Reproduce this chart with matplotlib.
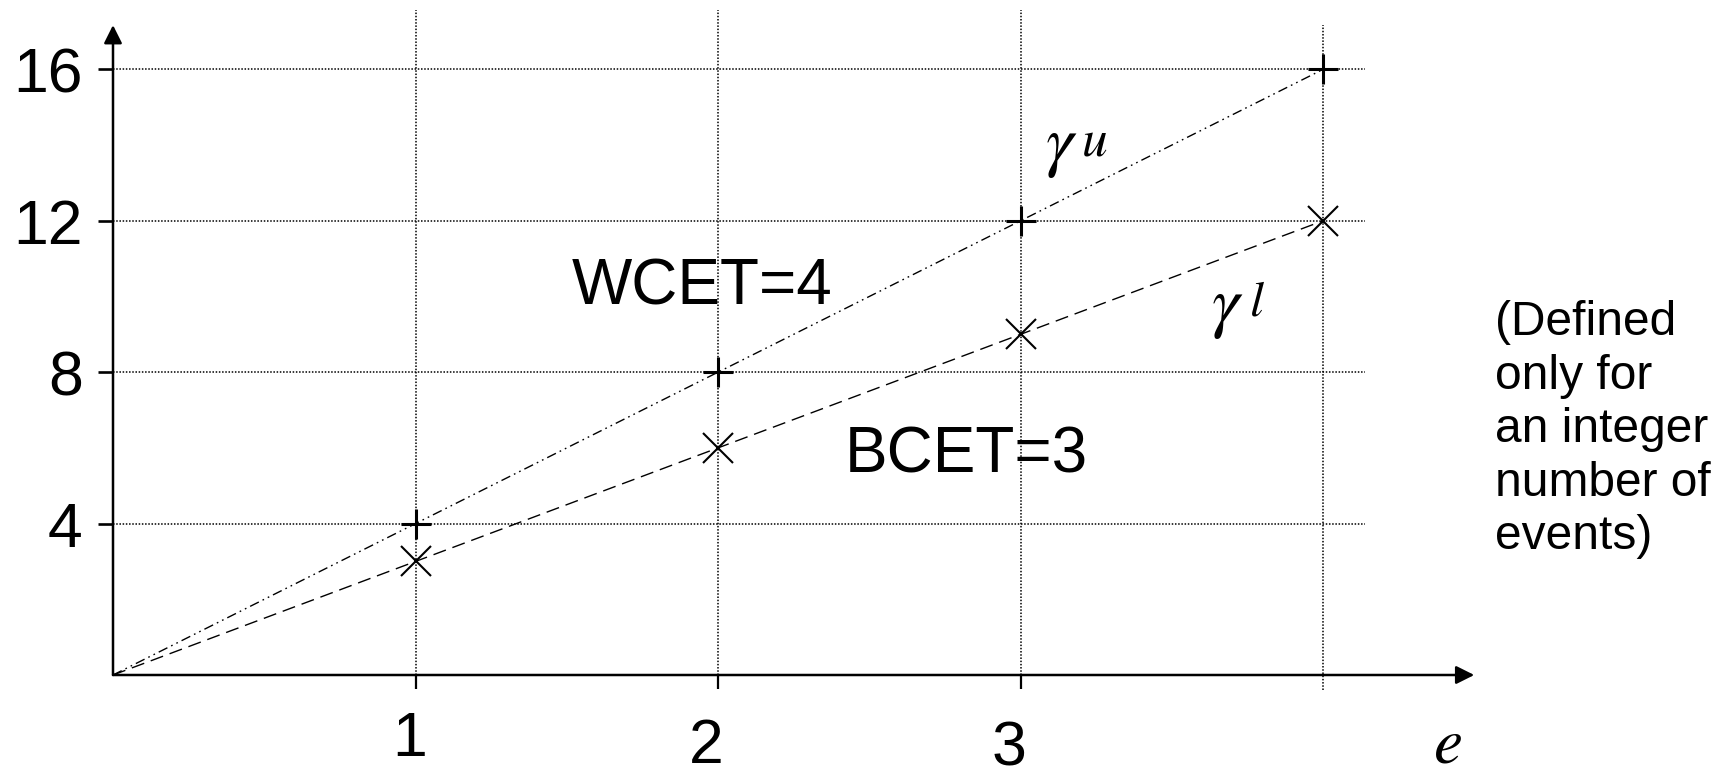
import matplotlib
matplotlib.use("Agg")
import matplotlib.pyplot as plt
from matplotlib.transforms import ScaledTranslation

plt.rcParams["font.family"] = ["Liberation Sans", "DejaVu Sans"]
plt.rcParams["mathtext.fontset"] = "stix"

# Data: execution demand curves for a task with WCET=4 and BCET=3
events = [0, 1, 2, 3, 4]
upper_demand = [0, 4, 8, 12, 16]   # gamma^u, WCET = 4
lower_demand = [0, 3, 6, 9, 12]    # gamma^l, BCET = 3
x_ticks = [1, 2, 3]
x_tick_labels = ["1", "2", "3"]
y_ticks = [4, 8, 12, 16]
y_tick_labels = ["4", "8", "12", "16"]
grid_x = [1, 2, 3, 4]

W, H, DPI = 17.21, 7.82, 100
fig = plt.figure(figsize=(W, H), dpi=DPI)

X_MAX, Y_MAX = 4.5, 17.17
ax = fig.add_axes([113 / 1721, 107 / 782, X_MAX * 302.5 / 1721, Y_MAX * 37.85 / 782])
ax.set_xlim(0, X_MAX)
ax.set_ylim(0, Y_MAX)
ax.patch.set_visible(False)
for s in ax.spines.values():
    s.set_visible(False)

# dotted reference grid
grid_style = dict(colors="black", linewidth=1.1, linestyles=(0, (1, 1.1)), clip_on=False, zorder=1)
ax.vlines(grid_x[:3], 0, 17.56, **grid_style)
ax.vlines(grid_x[3:], -0.4, Y_MAX, **grid_style)
ax.hlines(y_ticks, 0, 4.14, **grid_style)

# axes with arrow heads
arrow = dict(arrowstyle="-|>,head_length=1.0,head_width=0.5", mutation_scale=11,
             lw=1.8, color="black", shrinkA=0, shrinkB=0)
ax.annotate("", xy=(X_MAX, 0), xytext=(0, 0), arrowprops=arrow, annotation_clip=False, zorder=4)
ax.annotate("", xy=(0, Y_MAX), xytext=(0, 0), arrowprops=arrow, annotation_clip=False, zorder=4)

# demand curves
ax.plot(events, upper_demand, color="black", lw=1.0, dashes=(7, 3, 1.2, 3, 1.2, 3),
        marker="+", markevery=slice(1, None), ms=21.6, mew=2.2, clip_on=False, zorder=3)
ax.plot(events, lower_demand, color="black", lw=1.0, dashes=(9.5, 5),
        marker="x", markevery=slice(1, None), ms=21.6, mew=1.5, clip_on=False, zorder=3)

# ticks
ax.set_yticks(y_ticks, labels=y_tick_labels)
ax.set_xticks(x_ticks, labels=x_tick_labels)
ax.tick_params(axis="y", direction="out", length=10.8, width=1.9, pad=11, labelsize=45)
ax.tick_params(axis="x", direction="out", length=10, width=1.6, pad=15, labelsize=45)
x_offsets = [(-6, 0), (-12, -7), (-12, -10)]
for lab, (dx, dy) in zip(ax.get_xticklabels(), x_offsets):
    lab.set_transform(lab.get_transform() + ScaledTranslation(dx / DPI, dy / DPI, fig.dpi_scale_trans))

# annotations
ax.text(1.515, 9.78, "WCET=4", fontsize=46, ha="left", va="baseline")
ax.text(2.42, 5.35, "BCET=3", fontsize=46, ha="left", va="baseline")
ax.text(3.08, 13.49, r"$\gamma$", fontsize=50, ha="left", va="baseline")
ax.text(3.20, 13.72, r"$u$", fontsize=37, ha="left", va="baseline")
ax.text(3.63, 9.25, r"$\gamma$", fontsize=50, ha="left", va="baseline")
ax.text(3.755, 9.50, r"$l$", fontsize=36, ha="left", va="baseline")
ax.text(4.41, -2.30, r"$e$", fontsize=47, ha="center", va="baseline", clip_on=False)
# multi-line note, anchored on the baseline of its last line
ax.text(4.569, 3.33, "(Defined\nonly for\nan integer\nnumber of\nevents)",
        fontsize=34.5, ha="left", va="baseline", linespacing=1.24)

fig.savefig("out.png", dpi=DPI)
